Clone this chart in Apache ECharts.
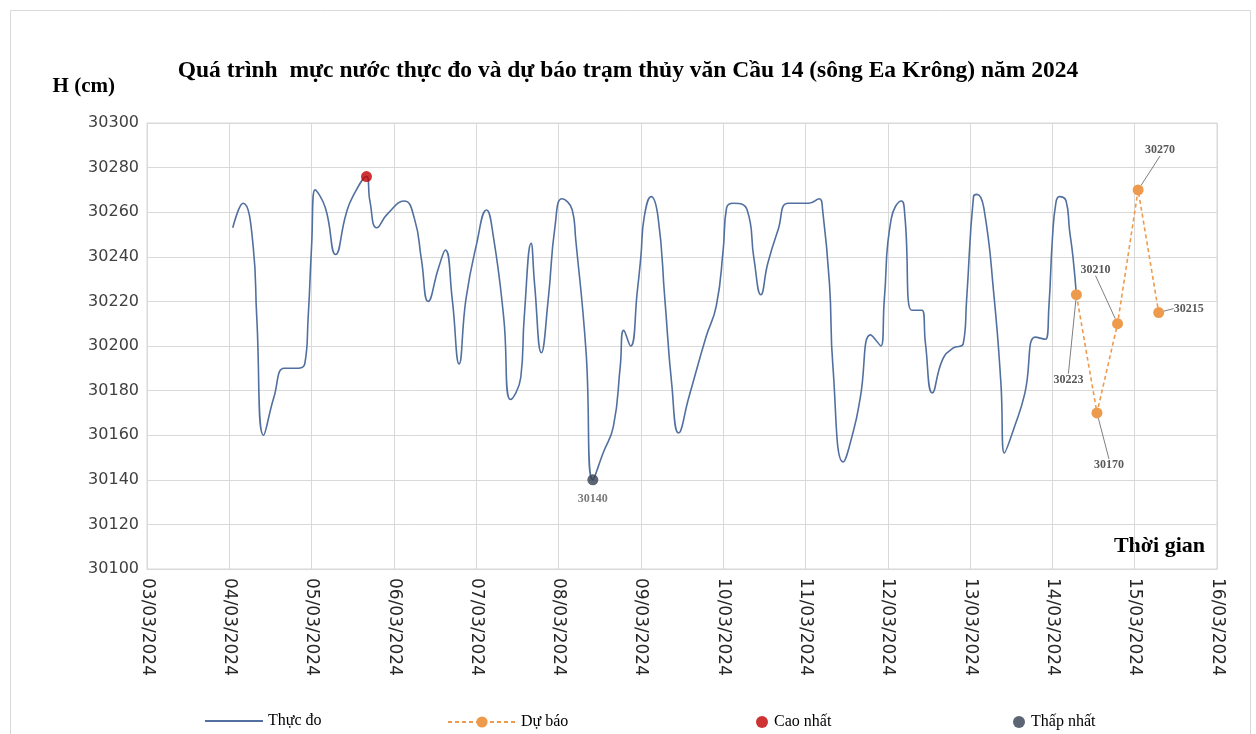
<!DOCTYPE html>
<html>

<head>
    <meta charset="utf-8">
    <title></title>
    <style>
        html, body { margin: 0; padding: 0; background: #fff; }
    </style>
</head>

<body>
    <div id="main" style="width: 1256px;height:734px;"></div>
    <script src="https://cdn.jsdelivr.net/npm/echarts@6/dist/echarts.min.js" charset="utf-8"></script>
    <script>
    // thực đo
    var measuredTimes = [
        '2024-03-04 01:00', '2024-03-04 04:00', '2024-03-04 07:00', '2024-03-04 08:00', '2024-03-04 10:00',
        '2024-03-04 13:00', '2024-03-04 16:00', '2024-03-04 19:00', '2024-03-04 22:00', '2024-03-04 23:00',
        '2024-03-05 00:00', '2024-03-05 01:00', '2024-03-05 04:00', '2024-03-05 07:00', '2024-03-05 10:00',
        '2024-03-05 12:00', '2024-03-05 16:00', '2024-03-05 17:00', '2024-03-05 19:00', '2024-03-05 22:00',
        '2024-03-06 03:00', '2024-03-06 06:00', '2024-03-06 08:00', '2024-03-06 10:00', '2024-03-06 13:00',
        '2024-03-06 15:00', '2024-03-06 17:00', '2024-03-06 19:00', '2024-03-06 21:00', '2024-03-07 00:00',
        '2024-03-07 03:00', '2024-03-07 05:00', '2024-03-07 08:00', '2024-03-07 10:00', '2024-03-07 13:00',
        '2024-03-07 14:00', '2024-03-07 16:00', '2024-03-07 17:00', '2024-03-07 19:00', '2024-03-07 21:00',
        '2024-03-07 23:00', '2024-03-08 01:00', '2024-03-08 04:00', '2024-03-08 05:00', '2024-03-08 08:00',
        '2024-03-08 10:00', '2024-03-08 13:00', '2024-03-08 16:00', '2024-03-08 18:00', '2024-03-08 19:00',
        '2024-03-08 21:00', '2024-03-08 23:00', '2024-03-09 00:00', '2024-03-09 01:00', '2024-03-09 03:00',
        '2024-03-09 05:00', '2024-03-09 07:00', '2024-03-09 09:00', '2024-03-09 11:00', '2024-03-09 14:00',
        '2024-03-09 19:00', '2024-03-09 22:00', '2024-03-10 00:00', '2024-03-10 01:00', '2024-03-10 03:00',
        '2024-03-10 07:00', '2024-03-10 09:00', '2024-03-10 11:00', '2024-03-10 13:00', '2024-03-10 16:00',
        '2024-03-10 19:00', '2024-03-11 01:00', '2024-03-11 04:00', '2024-03-11 05:00', '2024-03-11 07:00',
        '2024-03-11 08:00', '2024-03-11 11:00', '2024-03-11 14:00', '2024-03-11 16:00', '2024-03-11 19:00',
        '2024-03-11 22:00', '2024-03-11 23:00', '2024-03-12 01:00', '2024-03-12 04:00', '2024-03-12 05:00',
        '2024-03-12 07:00', '2024-03-12 10:00', '2024-03-12 11:00', '2024-03-12 13:00', '2024-03-12 16:00',
        '2024-03-12 19:00', '2024-03-12 22:00', '2024-03-12 23:00', '2024-03-13 01:00', '2024-03-13 02:00',
        '2024-03-13 04:00', '2024-03-13 07:00', '2024-03-13 09:00', '2024-03-13 10:00', '2024-03-13 13:00',
        '2024-03-13 16:00', '2024-03-13 19:00', '2024-03-13 22:00', '2024-03-13 23:00', '2024-03-14 00:00',
        '2024-03-14 01:00', '2024-03-14 02:00', '2024-03-14 04:00', '2024-03-14 05:00', '2024-03-14 06:00',
        '2024-03-14 07:00'
    ];
    var measuredValues = [
        30253, 30264, 30244, 30213, 30160,
        30177, 30190, 30190, 30192, 30213,
        30245, 30270, 30262, 30241, 30259,
        30267, 30276, 30265, 30253, 30259,
        30265, 30257, 30239, 30220, 30235,
        30243, 30221, 30192, 30221, 30245,
        30261, 30249, 30213, 30176, 30186,
        30213, 30246, 30228, 30197, 30221,
        30254, 30266, 30261, 30248, 30198,
        30140, 30152, 30164, 30191, 30207,
        30200, 30225, 30240, 30258, 30267,
        30258, 30221, 30183, 30161, 30177,
        30204, 30218, 30243, 30262, 30264,
        30261, 30239, 30223, 30237, 30252,
        30264, 30264, 30266, 30261, 30228,
        30191, 30148, 30162, 30177, 30205,
        30200, 30221, 30257, 30265, 30258,
        30216, 30216, 30201, 30179, 30194,
        30199, 30201, 30221, 30267, 30268,
        30262, 30222, 30183, 30152, 30164,
        30179, 30204, 30203, 30218, 30248,
        30264, 30267, 30265, 30252, 30240,
        30223
    ];

    // dự báo
    var forecastTimes = ['2024-03-14 07:00', '2024-03-14 13:00', '2024-03-14 19:00', '2024-03-15 01:00', '2024-03-15 07:00'];
    var forecastValues = [30223, 30170, 30210, 30270, 30215];

    var maxPoint = ['2024-03-05 16:00', 30276];
    var minPoint = ['2024-03-08 10:00', 30140];

    var xMin = '2024-03-03 00:00';
    var xMax = '2024-03-16 00:00';

    // label offsets for forecast points (dx, dy)
    var forecastLabelShift = [[-8, 85], [12, 52], [-22, -54], [22, -40], [30, -4]];

    var serif = '"Liberation Serif", "Times New Roman", serif';
    var DAY = 24 * 3600 * 1000;

    function zip(ts, vs) {
        return ts.map(function(t, i) { return [t, vs[i]]; });
    }

    var myChart = echarts.init(document.getElementById('main'));
    var option = {
        backgroundColor: '#fff',
        animation: false,
        title: {
            text: 'Quá trình  mực nước thực đo và dự báo trạm thủy văn Cầu 14 (sông Ea Krông) năm 2024',
            left: 'center',
            top: 54,
            textStyle: {
                fontFamily: serif,
                fontWeight: 'bold',
                fontSize: 23.5,
                color: '#000'
            }
        },
        graphic: [{
            type: 'rect',
            left: 8,
            top: 8,
            shape: { width: 1240, height: 740 },
            style: { fill: 'none', stroke: '#d9d9d9', lineWidth: 1 },
            silent: true
        }, {
            type: 'text',
            right: 51,
            top: 535,
            style: {
                text: 'Thời gian',
                font: 'bold 22px ' + serif,
                fill: '#000'
            }
        }],
        grid: {
            left: 147,
            right: 39,
            top: 123,
            bottom: 165,
            show: true,
            borderColor: '#d9d9d9',
            borderWidth: 1
        },
        legend: [{
            data: [{ name: 'Thực đo', icon: 'rect' }],
            left: 200, top: 708,
            itemWidth: 58, itemHeight: 2,
            textStyle: { fontFamily: serif, fontSize: 16, color: '#000' }
        }, {
            data: ['Dự báo'],
            left: 442, top: 709,
            itemWidth: 68, itemHeight: 14,
            textStyle: { fontFamily: serif, fontSize: 16, color: '#000' }
        }, {
            data: ['Cao nhất'],
            left: 751, top: 709,
            itemWidth: 14, itemHeight: 12,
            textStyle: { fontFamily: serif, fontSize: 16, color: '#000' }
        }, {
            data: ['Thấp nhất'],
            left: 1008, top: 709,
            itemWidth: 14, itemHeight: 12,
            textStyle: { fontFamily: serif, fontSize: 16, color: '#000' }
        }],
        xAxis: {
            type: 'time',
            min: xMin,
            max: xMax,
            minInterval: DAY,
            maxInterval: DAY,
            axisLine: { show: true, lineStyle: { color: '#d9d9d9' } },
            axisTick: { show: false },
            splitLine: { show: true, lineStyle: { color: '#d9d9d9', width: 1 } },
            axisLabel: {
                rotate: -90,
                margin: 9,
                showMinLabel: true,
                showMaxLabel: true,
                fontFamily: '"DejaVu Sans", sans-serif',
                fontSize: 17,
                color: '#262626',
                formatter: function(v) {
                    return echarts.time.format(v, '{dd}/{MM}/{yyyy}', false);
                }
            }
        },
        yAxis: {
            type: 'value',
            min: 30100,
            max: 30300,
            interval: 20,
            name: 'H (cm)',
            nameLocation: 'end',
            nameGap: 36,
            nameTextStyle: {
                fontFamily: serif,
                fontWeight: 'bold',
                fontSize: 21,
                color: '#000',
                align: 'right',
                verticalAlign: 'middle',
                padding: [0, 32, 0, 0]
            },
            axisLine: { show: true, lineStyle: { color: '#d9d9d9' } },
            axisTick: { show: false },
            splitLine: { show: true, lineStyle: { color: '#d9d9d9', width: 1 } },
            axisLabel: {
                margin: 8,
                fontFamily: '"DejaVu Sans", sans-serif',
                fontSize: 16,
                color: '#404040',
                formatter: function(v) { return String(v); }
            }
        },
        series: [{
            name: 'Thực đo',
            type: 'line',
            data: zip(measuredTimes, measuredValues),
            smooth: 0.5,
            showSymbol: false,
            symbol: 'none',
            lineStyle: { color: '#52709f', width: 1.6 },
            itemStyle: { color: '#52709f' },
            z: 2
        }, {
            name: 'Dự báo',
            type: 'line',
            data: zip(forecastTimes, forecastValues),
            symbol: 'circle',
            symbolSize: 11,
            lineStyle: { color: '#ee9a4d', width: 1.6, type: [4, 3] },
            itemStyle: { color: '#ee9a4d' },
            label: {
                show: true,
                position: 'inside',
                fontFamily: serif,
                fontWeight: 'bold',
                fontSize: 12,
                color: '#595959'
            },
            labelLine: {
                show: true,
                lineStyle: { color: '#7f7f7f', width: 1 }
            },
            labelLayout: function(p) {
                var s = forecastLabelShift[p.dataIndex];
                return { dx: s[0], dy: s[1] };
            },
            z: 3
        }, {
            name: 'Cao nhất',
            type: 'scatter',
            data: [maxPoint],
            symbolSize: 11,
            itemStyle: { color: '#c00000' },
            z: 4
        }, {
            name: 'Thấp nhất',
            type: 'scatter',
            data: [minPoint],
            symbolSize: 11,
            itemStyle: { color: '#333f50' },
            label: {
                show: true,
                position: 'bottom',
                distance: 8,
                fontFamily: serif,
                fontWeight: 'bold',
                fontSize: 12,
                color: '#595959',
                formatter: function(p) { return p.value[1]; }
            },
            z: 4
        }]
    };
    myChart.setOption(option);
    </script>
</body>

</html>
